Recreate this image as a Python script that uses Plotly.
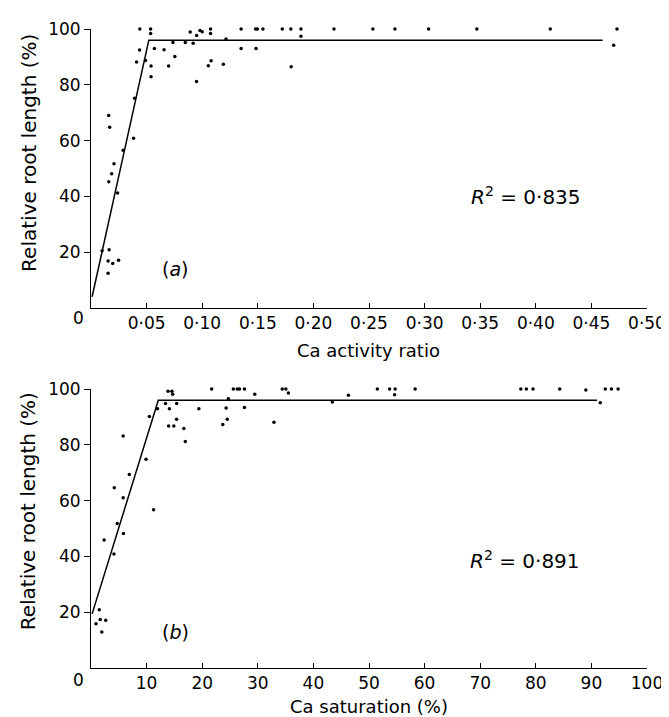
import plotly.graph_objects as go

# ---- Panel (a): Ca activity ratio ----
a_x = [0.010, 0.0154, 0.0154, 0.0163, 0.0195, 0.0248, 0.0160, 0.0186, 0.0207, 0.0239,
       0.0159, 0.0168, 0.0289, 0.0383, 0.0392, 0.041, 0.0439, 0.0437, 0.049, 0.0536,
       0.0536, 0.054, 0.054, 0.057, 0.0657, 0.0698, 0.0737, 0.0754, 0.0848, 0.0892,
       0.0919, 0.0949, 0.095, 0.098, 0.100, 0.1055, 0.1075, 0.1075, 0.108, 0.119,
       0.1214, 0.135, 0.135, 0.1484, 0.148, 0.1496, 0.1546, 0.172, 0.1797, 0.180,
       0.1888, 0.1888, 0.2185, 0.2535, 0.2733, 0.3036, 0.347, 0.413, 0.473, 0.470]
a_y = [20.5, 16.8, 12.4, 20.9, 15.9, 17.1, 45.2, 48.1, 51.7, 41.2,
       69.0, 64.8, 56.5, 60.8, 75.2, 88.2, 100, 92.5, 88.7, 100,
       98.4, 86.7, 82.9, 93.0, 92.6, 86.7, 95.2, 90.1, 95.2, 98.9,
       94.9, 81.2, 97.7, 99.5, 99.0, 86.8, 100, 98.4, 88.6, 87.4,
       96.4, 100, 93.0, 93.0, 100, 100, 100, 100, 100, 86.5,
       100, 97.4, 100, 100, 100, 100, 100, 100, 100, 94.2]
a_fit_x = [0.001, 0.052, 0.46]
a_fit_y = [4.0, 96.0, 96.0]

# ---- Panel (b): Ca saturation (%) ----
b_x = [0.9, 1.48, 1.66, 2.65, 1.95, 2.37, 4.13, 4.19, 4.72, 5.83,
       5.78, 5.78, 6.89, 9.9, 10.5, 11.25, 11.96, 13.4, 13.85, 14.55,
       14.7, 14.1, 15.4, 13.96, 14.9, 15.4, 16.7, 16.96, 19.4, 21.7,
       23.7, 24.5, 24.3, 24.7, 25.6, 26.3, 26.7, 27.6, 27.6, 29.45,
       32.9, 34.4, 35.05, 35.5, 43.4, 46.3, 51.5, 53.7, 54.7, 54.6,
       58.3, 77.3, 78.3, 79.5, 84.3, 89.0, 92.5, 93.6, 94.8, 91.6]
b_y = [15.9, 20.9, 17.4, 17.1, 12.9, 45.9, 40.9, 64.6, 51.8, 48.2,
       61.0, 83.2, 69.4, 74.8, 90.2, 56.7, 92.9, 94.8, 99.2, 99.2,
       98.1, 92.9, 94.8, 86.8, 86.8, 89.2, 85.9, 81.2, 92.9, 100,
       87.3, 89.2, 93.2, 96.5, 100, 100, 100, 100, 93.4, 98.1,
       88.1, 100, 100, 98.6, 95.4, 97.8, 100, 100, 100, 98.0,
       100, 100, 100, 100, 100, 99.7, 100, 100, 100, 95.1]
b_fit_x = [0.2, 12.1, 91.0]
b_fit_y = [19.4, 96.0, 96.0]

a_ticks = [0.05, 0.10, 0.15, 0.20, 0.25, 0.30, 0.35, 0.40, 0.45, 0.50]
a_ticktext = ["0·05", "0·10", "0·15", "0·20", "0·25", "0·30", "0·35", "0·40", "0·45", "0·50"]
b_ticks = [10, 20, 30, 40, 50, 60, 70, 80, 90, 100]
b_ticktext = ["10", "20", "30", "40", "50", "60", "70", "80", "90", "100"]
y_ticks = [20, 40, 60, 80, 100]

FONT = "DejaVu Sans"
FS_TICK = 17
FS_TITLE = 18

fig = go.Figure()
fig.add_trace(go.Scatter(x=a_x, y=a_y, mode="markers", marker=dict(size=3.5, color="black"),
                         cliponaxis=False, xaxis="x", yaxis="y", showlegend=False))
fig.add_trace(go.Scatter(x=a_fit_x, y=a_fit_y, mode="lines", line=dict(color="black", width=1.5),
                         cliponaxis=False, xaxis="x", yaxis="y", showlegend=False))
fig.add_trace(go.Scatter(x=b_x, y=b_y, mode="markers", marker=dict(size=3.5, color="black"),
                         cliponaxis=False, xaxis="x2", yaxis="y2", showlegend=False))
fig.add_trace(go.Scatter(x=b_fit_x, y=b_fit_y, mode="lines", line=dict(color="black", width=1.5),
                         cliponaxis=False, xaxis="x2", yaxis="y2", showlegend=False))

xcommon = dict(showline=True, linecolor="black", linewidth=1, ticks="inside", ticklen=5,
               tickcolor="black", showgrid=False, zeroline=False,
               tickfont=dict(size=FS_TICK, family=FONT, color="black"))
ycommon = dict(showline=True, linecolor="black", linewidth=1, ticks="outside", ticklen=6,
               tickcolor="black", showgrid=False, zeroline=False, range=[0, 100],
               tickvals=y_ticks, tickfont=dict(size=FS_TICK, family=FONT, color="black"))

fig.update_layout(
    width=669, height=717,
    margin=dict(l=83, r=20, t=11, b=57),
    paper_bgcolor="white", plot_bgcolor="white",
    font=dict(family=FONT, size=FS_TICK, color="black"),
    xaxis=dict(domain=[0, 1], anchor="y", range=[0, 0.5], tickvals=a_ticks, ticktext=a_ticktext, **xcommon),
    yaxis=dict(domain=[(660 - 294.3) / 649, 1], anchor="x", **ycommon),
    xaxis2=dict(domain=[0, 1], anchor="y2", range=[0, 100], tickvals=b_ticks, ticktext=b_ticktext, **xcommon),
    yaxis2=dict(domain=[0, (660 - 376.7) / 649], anchor="x2", **ycommon),
)

def py(p):
    return (660 - p) / 649

def px(p):
    return (p - 83.3) / 566

ann = [
    dict(text="0", x=px(71), y=py(305), size=FS_TICK),
    dict(text="0", x=px(71), y=py(672), size=FS_TICK),
    dict(text="Ca activity ratio", x=px(366), y=py(338), size=FS_TITLE),
    dict(text="Ca saturation (%)", x=px(366), y=py(699), size=FS_TITLE),
    dict(text="Relative root length (%)", x=px(20), y=py(137), size=20, textangle=-90),
    dict(text="Relative root length (%)", x=px(20), y=py(501), size=20, textangle=-90),
    dict(text="<i>R</i><sup>2</sup> = 0·835", x=px(526), y=py(181), size=20),
    dict(text="<i>R</i><sup>2</sup> = 0·891", x=px(525), y=py(550), size=20),
    dict(text="(<i>a</i>)", x=px(169), y=py(255), size=19),
    dict(text="(<i>b</i>)", x=px(169), y=py(623), size=19),
]
annotations = []
for a in ann:
    size = a.pop("size")
    a.update(xref="paper", yref="paper", showarrow=False, xanchor="center", yanchor="middle",
             font=dict(size=size, family=FONT, color="black"))
    annotations.append(a)
fig.update_layout(annotations=annotations)

fig.write_html("out.html")
